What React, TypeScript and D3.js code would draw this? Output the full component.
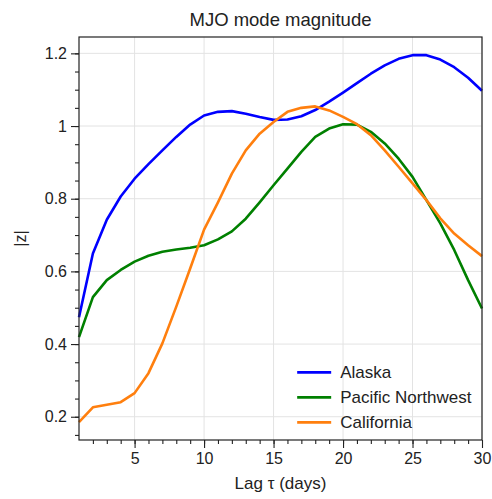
import React, { useEffect, useRef } from "react";
import * as d3 from "d3";

const days = d3.range(1, 31);

const alaska = [
  0.474, 0.649, 0.742, 0.806, 0.855, 0.895, 0.933, 0.97, 1.004, 1.029,
  1.039, 1.041, 1.034, 1.025, 1.017, 1.018, 1.027, 1.044, 1.067, 1.092,
  1.118, 1.144, 1.167, 1.185, 1.195, 1.195, 1.183, 1.162, 1.133, 1.097,
];
const pacificNW = [
  0.419, 0.529, 0.576, 0.604, 0.627, 0.643, 0.654, 0.66, 0.665, 0.672,
  0.688, 0.71, 0.745, 0.79, 0.837, 0.883, 0.929, 0.97, 0.993, 1.005,
  1.004, 0.984, 0.952, 0.91, 0.86, 0.796, 0.732, 0.659, 0.576, 0.498,
];
const california = [
  0.185, 0.226, 0.233, 0.24, 0.265, 0.32, 0.402, 0.503, 0.608, 0.715,
  0.79, 0.869, 0.933, 0.979, 1.011, 1.039, 1.05, 1.054, 1.043, 1.025,
  1.005, 0.975, 0.933, 0.888, 0.842, 0.796, 0.746, 0.704, 0.672, 0.642,
];

const seriesNames = ["Alaska", "Pacific Northwest", "California"];
const seriesColors = ["#0000ff", "#008000", "#ff7f0e"];
const xTicks = [5, 10, 15, 20, 25, 30];
const yTicks = [0.2, 0.4, 0.6, 0.8, 1, 1.2];

const App = () => {
  const ref = useRef<HTMLDivElement>(null);

  useEffect(() => {
    const W = 492;
    const H = 499;
    const margin = { top: 37, right: 10, bottom: 59, left: 79 };
    const width = W - margin.left - margin.right;
    const height = H - margin.top - margin.bottom;
    const font = "'Liberation Sans', Arial, sans-serif";

    const svg = d3
      .select(ref.current)
      .html("")
      .append("svg")
      .attr("width", W)
      .attr("height", H)
      .style("display", "block")
      .style("font-family", font);

    const chart = svg
      .append("g")
      .attr("transform", `translate(${margin.left},${margin.top})`);

    const x = d3.scaleLinear().domain([1, 30]).range([0, width]);
    const y = d3.scaleLinear().domain([0.136, 1.245]).range([height, 0]);

    // Grid
    chart
      .append("g")
      .selectAll("line")
      .data(xTicks)
      .join("line")
      .attr("x1", (d) => x(d))
      .attr("x2", (d) => x(d))
      .attr("y1", 0)
      .attr("y2", height)
      .attr("stroke", "#e3e3e3")
      .attr("stroke-width", 1);
    chart
      .append("g")
      .selectAll("line")
      .data(yTicks)
      .join("line")
      .attr("x1", 0)
      .attr("x2", width)
      .attr("y1", (d) => y(d))
      .attr("y2", (d) => y(d))
      .attr("stroke", "#e3e3e3")
      .attr("stroke-width", 1);

    // Lines
    const allSeries = [alaska, pacificNW, california];
    const line = d3
      .line<number>()
      .x((_, i) => x(days[i]))
      .y((d) => y(d));

    chart
      .append("g")
      .selectAll("path")
      .data(allSeries)
      .join("path")
      .attr("d", (d) => line(d))
      .attr("fill", "none")
      .attr("stroke", (_, i) => seriesColors[i])
      .attr("stroke-width", 2.6)
      .attr("stroke-linejoin", "round");

    // Frame
    chart
      .append("rect")
      .attr("width", width)
      .attr("height", height)
      .attr("fill", "none")
      .attr("stroke", "#222")
      .attr("stroke-width", 1.2);

    // Axes
    const xAxis = chart
      .append("g")
      .attr("transform", `translate(0,${height})`)
      .call(d3.axisBottom(x).tickValues(xTicks).tickSize(8).tickPadding(5));
    chart
      .append("g")
      .attr("transform", `translate(0,${height})`)
      .call(d3.axisBottom(x).tickValues(d3.range(2, 30)).tickSize(4).tickFormat(() => ""));

    const yAxis = chart
      .append("g")
      .call(
        d3
          .axisLeft(y)
          .tickValues(yTicks)
          .tickSize(8)
          .tickPadding(4)
          .tickFormat((d) => d3.format("~g")(d as number))
      );
    chart
      .append("g")
      .call(
        d3
          .axisLeft(y)
          .tickValues(d3.range(0.15, 1.25, 0.05))
          .tickSize(4)
          .tickFormat(() => "")
      );

    chart.selectAll(".domain").remove();
    chart.selectAll(".tick line").attr("stroke", "#222").attr("stroke-width", 1.1);
    [xAxis, yAxis].forEach((g) =>
      g
        .selectAll("text")
        .attr("font-size", 16)
        .attr("font-family", font)
        .attr("fill", "#222")
    );

    // Legend
    const legend = chart
      .append("g")
      .attr("transform", `translate(${x(16.7)},${y(0.322)})`);
    seriesNames.forEach((name, i) => {
      const g = legend.append("g").attr("transform", `translate(0,${i * 25})`);
      g.append("line")
        .attr("x1", 0)
        .attr("x2", 34)
        .attr("stroke", seriesColors[i])
        .attr("stroke-width", 2.6);
      g.append("text")
        .attr("x", 43)
        .attr("dy", "0.35em")
        .attr("font-size", 17)
        .attr("fill", "#222")
        .text(name);
    });

    // Title and labels
    svg
      .append("text")
      .attr("x", margin.left + width / 2)
      .attr("y", 26)
      .attr("text-anchor", "middle")
      .attr("font-size", 18.5)
      .attr("fill", "#222")
      .text("MJO mode magnitude");

    svg
      .append("text")
      .attr("x", margin.left + width / 2)
      .attr("y", 489)
      .attr("text-anchor", "middle")
      .attr("font-size", 17)
      .attr("fill", "#222")
      .text("Lag τ (days)");

    svg
      .append("text")
      .attr("transform", `translate(26,${margin.top + height / 2}) rotate(-90)`)
      .attr("text-anchor", "middle")
      .attr("font-size", 16)
      .attr("fill", "#222")
      .text("|z|");
  }, []);

  return <div ref={ref} style={{ position: "absolute", left: 0, top: 0 }} />;
};

export default App;
